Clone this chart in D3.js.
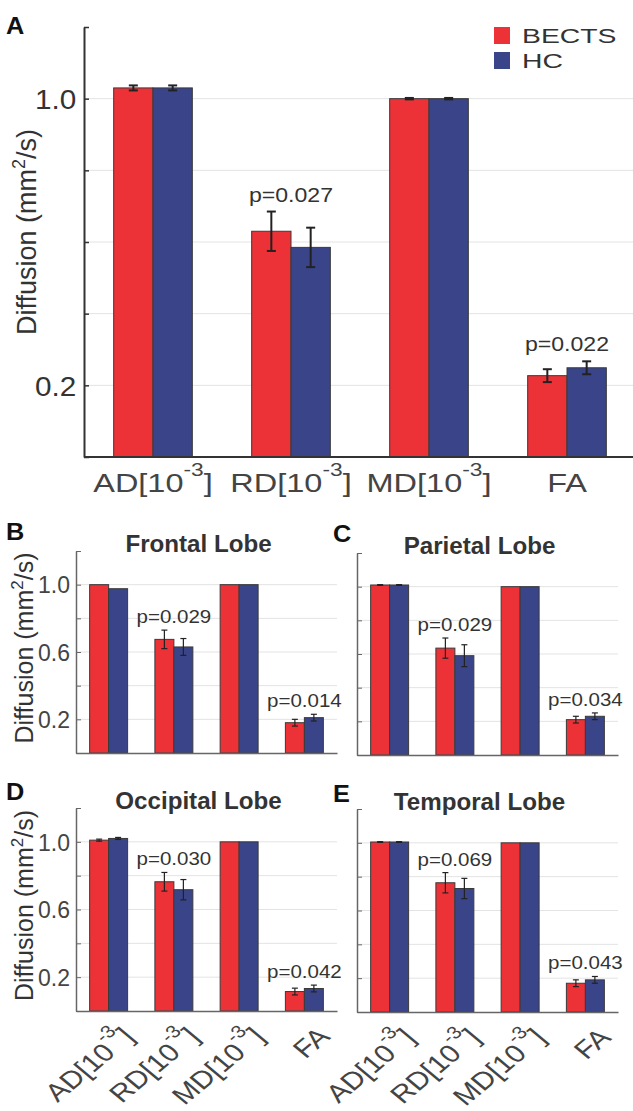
<!DOCTYPE html>
<html>
<head>
<meta charset="utf-8">
<script src="https://cdn.jsdelivr.net/npm/d3@7"></script>
<style>
  body { margin: 0; background: #fff; }
  svg { display: block; font-family: Arial, "Liberation Sans", Helvetica, sans-serif; }
</style>
</head>
<body>
<div id="chart"></div>
<script>
// x categories (first three are in units of 10^-3 mm2/s)
const measures = ['AD', 'RD', 'MD', 'FA'];
const measureExp = ['-3', '-3', '-3', null];
const groups = ['BECTS', 'HC'];
const groupColors = ['#ec3237', '#3a4489'];

// A = whole brain, B..E = lobes
const panelIds = ['A', 'B', 'C', 'D', 'E'];
const panelTitles = [null, 'Frontal Lobe', 'Parietal Lobe', 'Occipital Lobe', 'Temporal Lobe'];

// means per panel, order AD, RD, MD, FA
const bectsMean = [
  [1.03, 0.630, 1.00, 0.227],
  [1.00, 0.675, 1.00, 0.180],
  [1.01, 0.635, 1.00, 0.210],
  [1.01, 0.764, 1.00, 0.115],
  [1.005, 0.764, 1.00, 0.170]
];
const hcMean = [
  [1.03, 0.585, 1.00, 0.249],
  [0.976, 0.630, 1.00, 0.210],
  [1.01, 0.590, 1.00, 0.230],
  [1.02, 0.717, 1.00, 0.133],
  [1.005, 0.730, 1.00, 0.190]
];
// error bar half-lengths
const bectsErr = [
  [0.007, 0.055, 0.002, 0.018],
  [0, 0.055, 0, 0.020],
  [0.002, 0.060, 0, 0.020],
  [0.006, 0.055, 0, 0.020],
  [0.002, 0.060, 0, 0.020]
];
const hcErr = [
  [0.007, 0.055, 0.002, 0.018],
  [0, 0.050, 0, 0.020],
  [0.002, 0.065, 0, 0.020],
  [0.006, 0.060, 0, 0.020],
  [0.002, 0.060, 0, 0.020]
];
const pLabels = [
  [null, '0.027', null, '0.022'],
  [null, '0.029', null, '0.014'],
  [null, '0.029', null, '0.034'],
  [null, '0.030', null, '0.042'],
  [null, '0.069', null, '0.043']
];

const yTicks = [0, 0.2, 0.4, 0.6, 0.8, 1.0, 1.2];
const yGrid = [0.2, 0.4, 0.6, 0.8, 1.0];
const yLabelsBig = [1.0, 0.2];
const yLabelsSmall = [1.0, 0.6, 0.2];

const W = 633, H = 1111;

// panel frames (pixels)
const frames = [
  { left: 84, right: 636, top: 27, bottom: 457, big: true, letter: [6, 34] },
  { left: 76, right: 337, top: 551, bottom: 753, letter: [6, 540], yAxisText: true },
  { left: 357, right: 618, top: 553, bottom: 755, letter: [333, 542] },
  { left: 76, right: 337, top: 808, bottom: 1011, letter: [6, 800], yAxisText: true, xText: true },
  { left: 357, right: 618, top: 809, bottom: 1012, letter: [333, 802], xText: true }
];

const svg = d3.select('#chart').append('svg')
  .attr('width', W)
  .attr('height', H);

// the figure text is a little wider than Arial, so stretch horizontally
function addText(g, x, y, str, o) {
  let tf = `translate(${x},${y}) scale(${o.sx || 1},1)`;
  if (o.rotate) tf += ` rotate(${o.rotate})`;
  return g.append('text')
    .attr('transform', tf)
    .attr('text-anchor', o.anchor || 'middle')
    .attr('font-size', o.size)
    .attr('font-weight', o.weight || 'normal')
    .attr('fill', o.fill || '#333')
    .text(str);
}

function measureLabel(g, x, y, i, o) {
  const t = addText(g, x, y, null, o);
  if (measureExp[i] == null) {
    t.text(measures[i]);
    return t;
  }
  t.append('tspan').text(measures[i] + '[10');
  t.append('tspan').attr('font-size', o.size * 0.7).attr('dy', -o.size * 0.6).text(measureExp[i]);
  t.append('tspan').attr('dy', o.size * 0.6).text(']');
  return t;
}

function drawPanel(p) {
  const f = frames[p];
  const big = !!f.big;
  const g = svg.append('g').attr('class', `panel-${panelIds[p]}`);

  const x = d3.scaleBand().domain(measures).range([f.left, f.right])
    .paddingInner(big ? 0.43 : 0.418).paddingOuter(big ? 0.215 : 0.209);
  const xs = d3.scaleBand().domain(groups).range([0, x.bandwidth()]);
  const y = d3.scaleLinear().domain([0, 1.2]).range([f.bottom, f.top]);
  const gridEnd = big ? W : f.right;

  g.append('g').selectAll('line').data(yGrid).join('line')
    .attr('x1', f.left).attr('x2', gridEnd)
    .attr('y1', d => y(d)).attr('y2', d => y(d))
    .attr('stroke', '#e3e3e3').attr('stroke-width', 1);

  // bars
  const rows = [];
  measures.forEach((m, i) => {
    rows.push({ m, grp: 'BECTS', v: bectsMean[p][i], e: bectsErr[p][i], c: groupColors[0] });
    rows.push({ m, grp: 'HC', v: hcMean[p][i], e: hcErr[p][i], c: groupColors[1] });
  });
  g.append('g').selectAll('rect').data(rows).join('rect')
    .attr('x', d => x(d.m) + xs(d.grp))
    .attr('y', d => y(d.v))
    .attr('width', xs.bandwidth())
    .attr('height', d => y(0) - y(d.v))
    .attr('fill', d => d.c)
    .attr('stroke', '#3a3a3a')
    .attr('stroke-width', 1);

  // error bars
  const cap = big ? 4.5 : 3;
  const eg = g.append('g').attr('stroke', '#222').attr('stroke-width', big ? 2 : 1.2);
  const er = eg.selectAll('g').data(rows.filter(d => d.e > 0)).join('g')
    .attr('transform', d => `translate(${x(d.m) + xs(d.grp) + xs.bandwidth() / 2},0)`);
  er.append('line').attr('x1', 0).attr('x2', 0)
    .attr('y1', d => y(d.v - d.e)).attr('y2', d => y(d.v + d.e));
  er.append('line').attr('x1', -cap).attr('x2', cap)
    .attr('y1', d => y(d.v - d.e)).attr('y2', d => y(d.v - d.e));
  er.append('line').attr('x1', -cap).attr('x2', cap)
    .attr('y1', d => y(d.v + d.e)).attr('y2', d => y(d.v + d.e));

  // axes
  const axisColor = big ? '#333' : '#666';
  const labelVals = big ? yLabelsBig : (f.yAxisText ? yLabelsSmall : []);
  const yAxis = g.append('g').attr('transform', `translate(${f.left},0)`)
    .call(d3.axisLeft(y).tickValues(yTicks).tickSizeInner(-5).tickSizeOuter(0)
      .tickPadding(big ? 7 : 6)
      .tickFormat(d => labelVals.some(v => Math.abs(v - d) < 1e-9) ? d3.format('.1f')(d) : ''));
  yAxis.select('.domain').attr('stroke', axisColor).attr('stroke-width', big ? 2 : 1.5);
  yAxis.selectAll('.tick line').attr('stroke', axisColor).attr('stroke-width', big ? 1.5 : 1);
  yAxis.selectAll('.tick text')
    .attr('font-size', big ? 27 : 23)
    .attr('font-family', null)
    .attr('fill', big ? '#333' : '#444')
    .attr('transform', `scale(${big ? 1.1 : 1},1)`)
    .attr('dy', '0.36em');

  const xAxis = g.append('g').attr('transform', `translate(0,${f.bottom})`)
    .call(d3.axisBottom(x).tickSize(0).tickFormat(''));
  xAxis.select('.domain').attr('stroke', axisColor).attr('stroke-width', big ? 2 : 1.5);
  if (big) xAxis.select('.domain').attr('d', `M${f.left},0H${W}`);

  // p values
  measures.forEach((m, i) => {
    const lab = pLabels[p][i];
    if (!lab) return;
    const top = Math.max(bectsMean[p][i] + bectsErr[p][i], hcMean[p][i] + hcErr[p][i]);
    addText(g, x(m) + x.bandwidth() / 2, y(top) - (big ? 10 : 7), 'p=' + lab,
      { size: big ? 21 : 19, sx: big ? 1.1 : 1.08, fill: '#333' });
  });

  // x labels
  measures.forEach((m, i) => {
    const cx = x(m) + x.bandwidth() / 2;
    if (big) {
      measureLabel(g, cx, f.bottom + 35, i, { size: 26, sx: 1.25, fill: '#444' });
    } else if (f.xText) {
      measureLabel(g, cx + 27, f.bottom + 27, i, { size: 25, sx: 1.2, rotate: -45, anchor: 'end', fill: '#444' });
    }
  });

  // y title
  if (big || f.yAxisText) {
    const t = addText(g, big ? 36 : 33, big ? 232 : (f.top + f.bottom) / 2 - 4, null,
      { size: big ? 27 : 25, rotate: -90, fill: '#333' });
    t.append('tspan').text('Diffusion (mm');
    t.append('tspan').attr('font-size', big ? 18 : 17).attr('dy', big ? -11 : -10).text('2');
    t.append('tspan').attr('dy', big ? 11 : 10).text('/s)');
  }

  // panel title and letter
  if (panelTitles[p]) {
    addText(g, (f.left + f.right) / 2 - 8, f.top + 1, panelTitles[p],
      { size: 23, weight: 'bold', sx: 1.05, fill: '#333' });
  }
  addText(g, f.letter[0], f.letter[1], panelIds[p],
    { size: 23, weight: 'bold', sx: 1.1, anchor: 'start', fill: '#111' });

  // legend (panel A only)
  if (big) {
    const lg = g.append('g').selectAll('g').data(groups).join('g')
      .attr('transform', (d, i) => `translate(494,${27 + i * 25})`);
    lg.append('rect').attr('width', 16).attr('height', 17)
      .attr('fill', (d, i) => groupColors[i]);
    lg.each(function (d) {
      addText(d3.select(this), 28, 16, d, { size: 21, sx: 1.35, anchor: 'start', fill: '#333' });
    });
  }
}

panelIds.forEach((id, p) => drawPanel(p));
</script>
</body>
</html>
